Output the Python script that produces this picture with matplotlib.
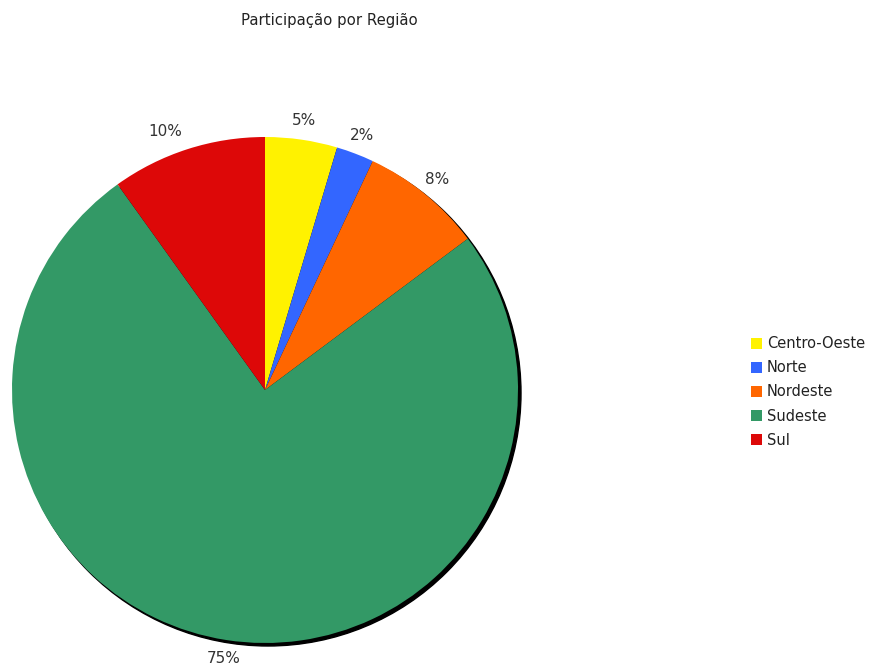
import matplotlib.pyplot as plt
from matplotlib.patches import Circle

regions = ['Centro-Oeste', 'Norte', 'Nordeste', 'Sudeste', 'Sul']
values = [4.6, 2.4, 7.8, 75.3, 9.9]
colors = ['#FFF200', '#3366FF', '#FF6600', '#339966', '#DD0808']

fig = plt.figure(figsize=(8.7, 6.71), dpi=100)
ax = fig.add_axes([0, 0, 1, 1])

cx, cy, r = 265, 281, 253

# drop shadow behind the pie
ax.add_patch(Circle((cx + 3, cy - 3), r, color='black', zorder=0))

wedges, texts, autotexts = ax.pie(values, colors=colors, startangle=90, counterclock=False,
                                  center=(cx, cy), radius=r, autopct='%.0f%%',
                                  pctdistance=1.075, frame=True,
                                  wedgeprops={'linewidth': 0},
                                  textprops={'fontsize': 11, 'color': '#333333'})
# labels well to the left of centre are right-aligned
for t in autotexts:
    x, y = t.get_position()
    if x - cx < -0.25 * r:
        t.set_ha('right')

ax.set_xlim(0, 870)
ax.set_ylim(0, 671)
ax.set_aspect('equal')
ax.axis('off')

fig.text(329 / 870, 1 - 20 / 671, 'Participação por Região', ha='center', va='center',
         fontsize=10.7, color='#222222')

fig.legend(wedges, regions, loc='center left', bbox_to_anchor=(745 / 870, 1 - 392 / 671),
           frameon=False, fontsize=10.5, handlelength=0.8, handleheight=0.8,
           handletextpad=0.3, labelspacing=0.62, borderaxespad=0, labelcolor='#222222')

plt.savefig('out.png', dpi=100)
